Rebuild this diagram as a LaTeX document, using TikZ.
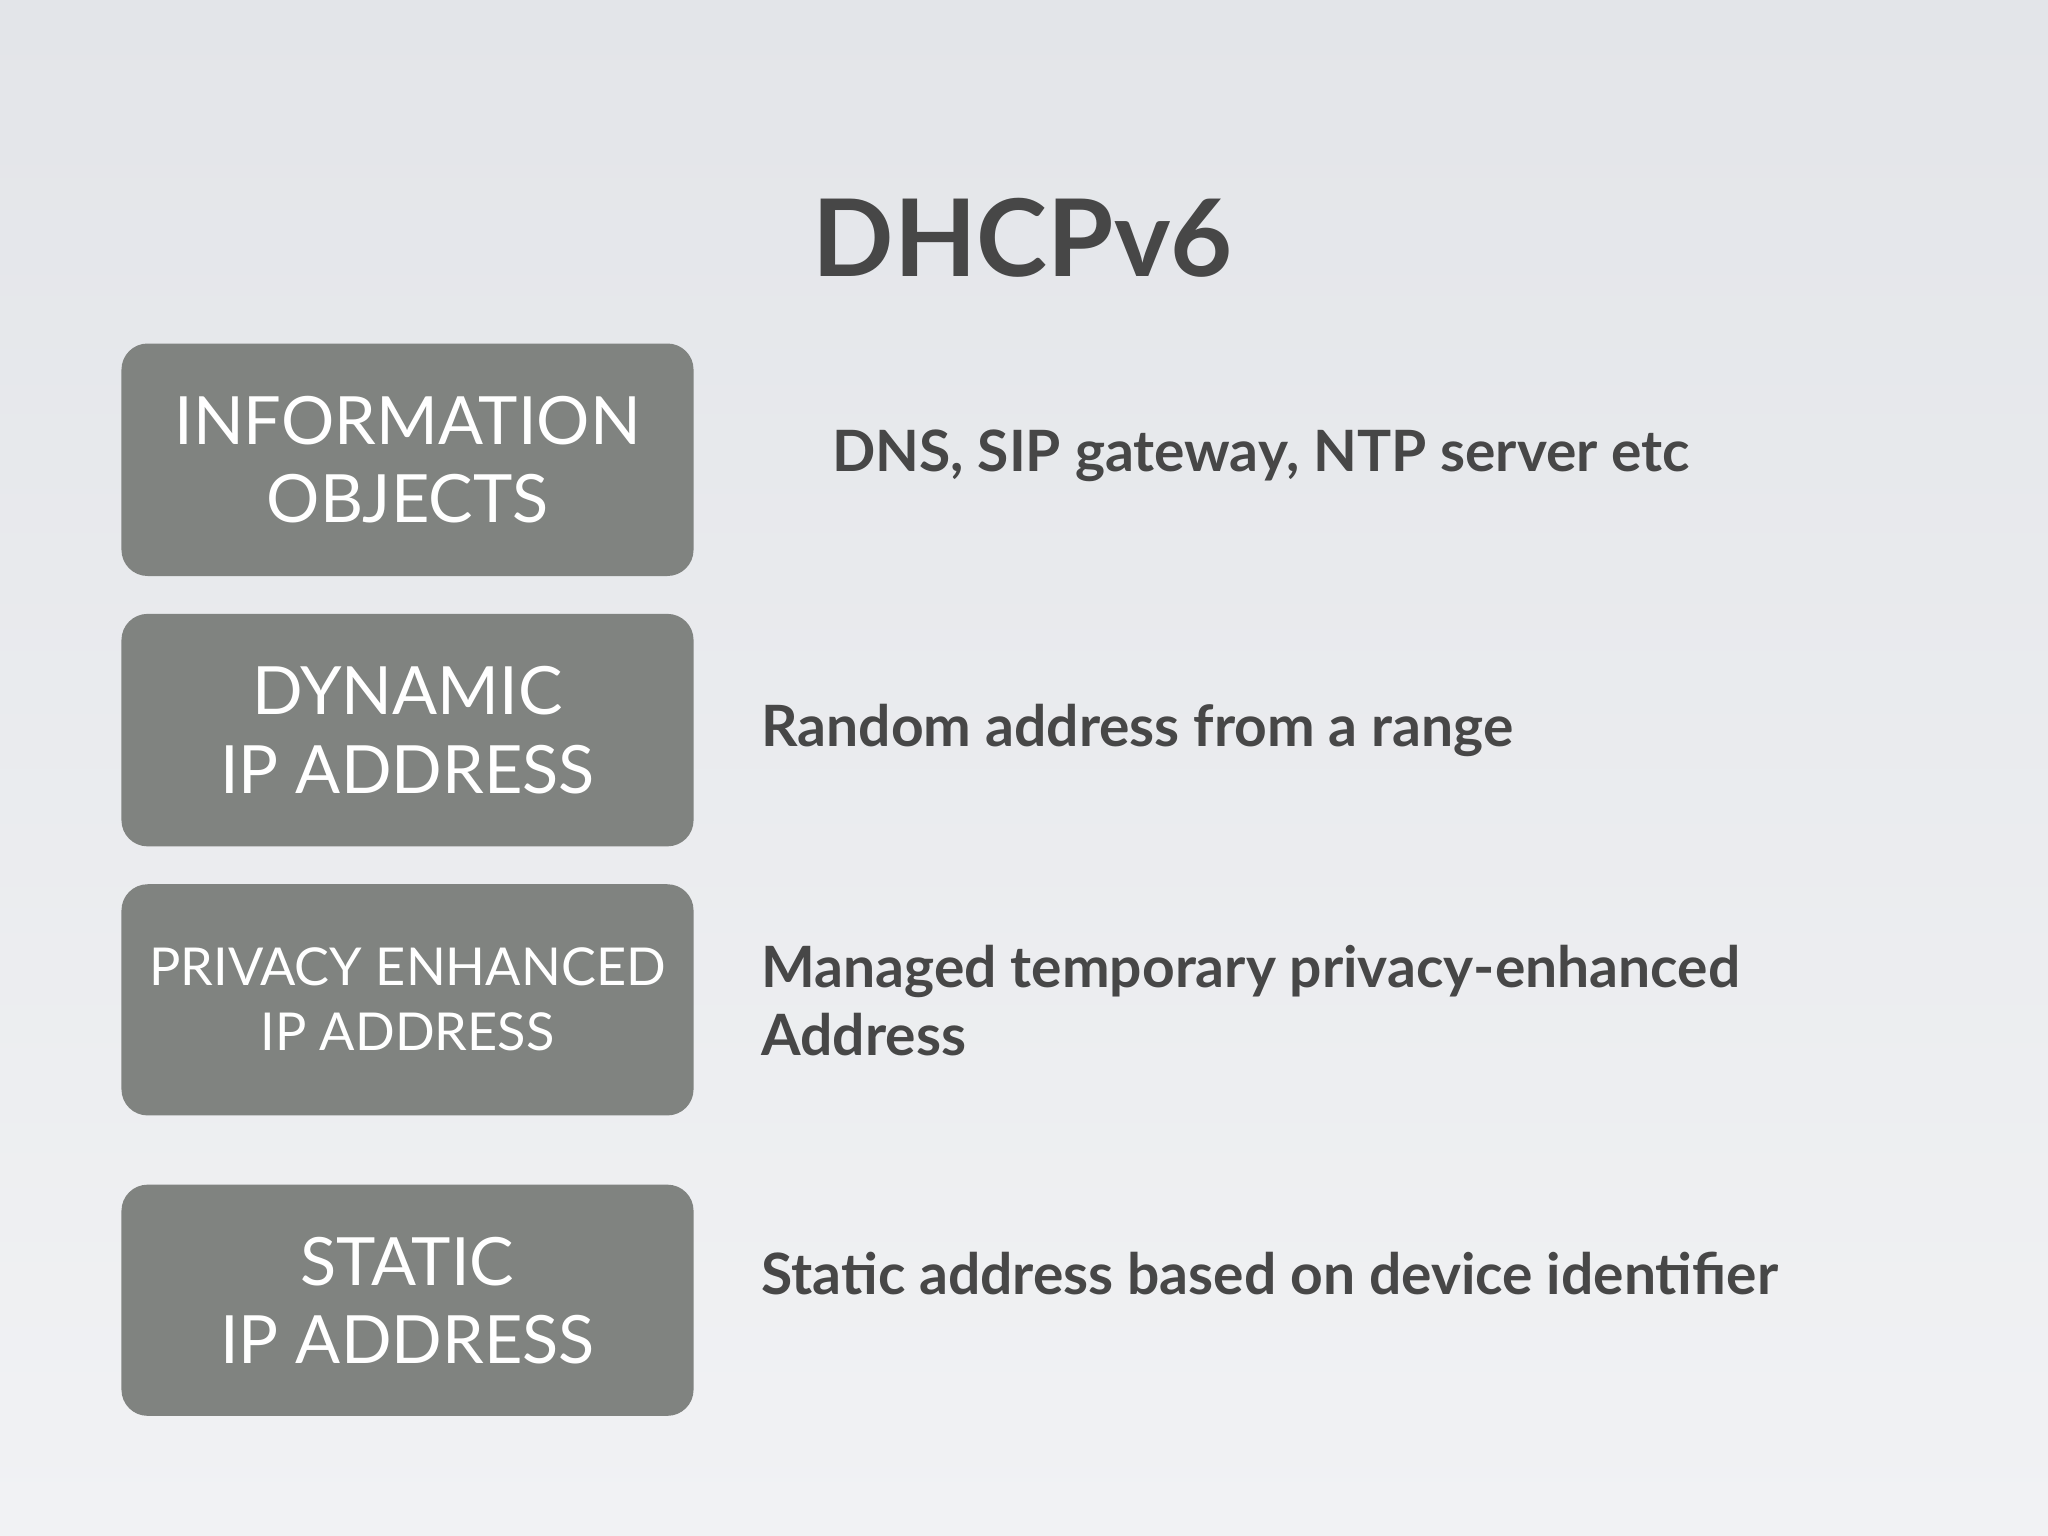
\documentclass[tikz,border=0pt]{standalone}
\usepackage{fontspec}
\setmainfont{Lato}
\definecolor{boxg}{HTML}{808380}
\definecolor{txt}{HTML}{474747}
\definecolor{bgtop}{HTML}{E3E5E9}
\definecolor{bgbot}{HTML}{F1F2F4}
\tikzset{x=0.5pt,y=-0.5pt,
 gbox/.style={fill=boxg,rounded corners=10pt,draw=none},
 btxt/.style={text=white,align=center,font=\fontsize{25.5}{30}\selectfont},
 rtxt/.style={text=txt,anchor=west,align=left,font=\bfseries\fontsize{21.8}{26}\selectfont}}
\begin{document}
\begin{tikzpicture}
\shade[top color=bgtop,bottom color=bgbot] (0,0) rectangle (1568,1176);
\useasboundingbox (0,0) rectangle (1568,1176);
\node[text=txt,font=\bfseries\fontsize{41}{46}\selectfont] (title) at (783,182) {DHCPv6};
\fill[gbox] (93,263) rectangle (531,441);
\fill[gbox] (93,470) rectangle (531,648);
\fill[gbox] (93,677) rectangle (531,854);
\fill[gbox] (93,907) rectangle (531,1084);
\node[btxt] (b1) at (312,352) {INFORMATION\\OBJECTS};
\node[btxt] (b2) at (312,559) {DYNAMIC\\IP ADDRESS};
\node[btxt,font=\fontsize{20}{25}\selectfont] (b3) at (312,765) {PRIVACY ENHANCED\\IP ADDRESS};
\node[btxt] (b4) at (312,996) {STATIC\\IP ADDRESS};
\node[rtxt] (t1) at (630,349) {DNS, SIP gateway, NTP server etc};
\node[rtxt] (t2) at (576,559) {Random address from a range};
\node[rtxt] (t3) at (576,766) {Managed temporary privacy-enhanced\\Address};
\node[rtxt] (t4) at (576,975) {Static address based on device identifier};
\end{tikzpicture}
\end{document}
